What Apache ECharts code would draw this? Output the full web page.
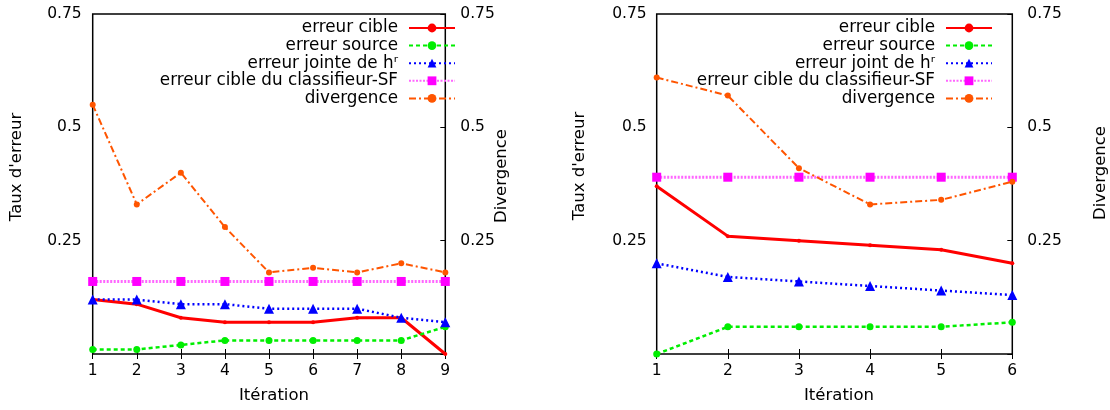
<!DOCTYPE html>
<html>
<head>
<meta charset="utf-8">
<script src="https://cdn.jsdelivr.net/npm/echarts@6/dist/echarts.min.js"></script>
<style>
html,body{margin:0;padding:0;background:#fff;}
#c{width:1110px;height:410px;}
</style>
</head>
<body>
<div id="c"></div>
<script>
// ---- data ----
const iterA = [1, 2, 3, 4, 5, 6, 7, 8, 9];
const cibleA = [0.12, 0.11, 0.08, 0.07, 0.07, 0.07, 0.08, 0.08, 0.00];
const sourceA = [0.01, 0.01, 0.02, 0.03, 0.03, 0.03, 0.03, 0.03, 0.06];
const jointeA = [0.12, 0.12, 0.11, 0.11, 0.10, 0.10, 0.10, 0.08, 0.07];
const sfA = [0.16, 0.16, 0.16, 0.16, 0.16, 0.16, 0.16, 0.16, 0.16];
const divA = [0.55, 0.33, 0.40, 0.28, 0.18, 0.19, 0.18, 0.20, 0.18];

const iterB = [1, 2, 3, 4, 5, 6];
const cibleB = [0.37, 0.26, 0.25, 0.24, 0.23, 0.20];
const sourceB = [0.00, 0.06, 0.06, 0.06, 0.06, 0.07];
const jointB = [0.20, 0.17, 0.16, 0.15, 0.14, 0.13];
const sfB = [0.39, 0.39, 0.39, 0.39, 0.39, 0.39];
const divB = [0.61, 0.57, 0.41, 0.33, 0.34, 0.38];

const namesA = ['erreur cible', 'erreur source', 'erreur jointe de h\u02B3', 'erreur cible du classifieur-SF', 'divergence'];
const namesB = ['erreur cible', 'erreur source', 'erreur joint de h\u02B3', 'erreur cible du classifieur-SF', 'divergence'];
const yTicks = [0.25, 0.5, 0.75];
const xLabel = 'Itération';
const yLabel = "Taux d'erreur";
const y2Label = 'Divergence';

// ---- styles ----
const FONT = 'DejaVu Sans';
const TICKFS = 15.5;
const styles = [
  {color: '#ff0000', line: {width: 3, type: 'solid'}, symbol: 'circle', size: 4},
  {color: '#00ee00', line: {width: 2.5, type: [4, 3]}, symbol: 'circle', size: 7},
  {color: '#0000ff', line: {width: 2.5, type: [2, 3]}, symbol: 'triangle', size: 10},
  {color: '#ff00ff', lineColor: '#ff66ff', line: {width: 3, type: [2, 1.5]}, symbol: 'rect', size: 9},
  {color: '#ff5500', line: {width: 2, type: [7, 3, 2, 3]}, symbol: 'circle', size: 6}
];

function pairs(xs, ys) { return xs.map((x, i) => [x, ys[i]]); }

function makeSeries(xs, arrs, names, xIdx, yIdx, y2Idx) {
  return arrs.map((arr, k) => {
    const st = styles[k];
    return {
      type: 'line',
      name: names[k],
      xAxisIndex: xIdx,
      yAxisIndex: k === 4 ? y2Idx : yIdx,
      data: pairs(xs, arr),
      symbol: st.symbol,
      symbolSize: st.size,
      showAllSymbol: true,
      clip: false,
      animation: false,
      itemStyle: {color: st.color},
      lineStyle: {color: st.lineColor || st.color, width: st.line.width, type: st.line.type},
      z: 3 + k
    };
  });
}

function yAxisDef(gridIndex, position, showTick, margin) {
  return {
    type: 'value', gridIndex: gridIndex, position: position,
    min: 0, max: 0.75, interval: 0.25,
    axisLine: {show: false},
    splitLine: {show: false},
    axisTick: {show: showTick, inside: true, length: 5, lineStyle: {color: '#000', width: 1}},
    axisLabel: {
      show: true, margin: margin, color: '#000', fontFamily: FONT, fontSize: TICKFS,
      formatter: v => (yTicks.indexOf(Math.round(v * 100) / 100) >= 0 ? String(Math.round(v * 100) / 100) : '')
    }
  };
}

function xAxisDef(gridIndex, position, maxV, showLabel) {
  return {
    type: 'value', gridIndex: gridIndex, position: position,
    min: 1, max: maxV, interval: 1,
    axisLine: {show: false},
    splitLine: {show: false},
    axisTick: {show: true, inside: true, length: 5, lineStyle: {color: '#000', width: 1}},
    axisLabel: {show: showLabel, margin: 9, color: '#000', fontFamily: FONT, fontSize: TICKFS}
  };
}

function legendDef(names, right) {
  return {
    orient: 'vertical', align: 'right', right: right, top: 19.5, padding: 0,
    itemWidth: 46, itemHeight: 11, itemGap: 0.6,
    textStyle: {fontFamily: FONT, fontSize: 16.8, color: '#000', padding: [0, 6, 0, 0]},
    data: names,
    selectedMode: false
  };
}

function axText(x, y, txt, rot) {
  return {
    type: 'text', x: x, y: y, rotation: rot,
    style: {text: txt, fontFamily: FONT, fontSize: 16.5, fill: '#000', align: 'center', verticalAlign: 'middle'}
  };
}

const chart = echarts.init(document.getElementById('c'), null, {renderer: 'canvas'});
const option = {
  backgroundColor: '#fff',
  animation: false,
  grid: [
    {left: 92.7, top: 14, width: 352.6, height: 340, show: true, borderColor: '#000', borderWidth: 1.5, backgroundColor: 'transparent'},
    {left: 656.7, top: 14, width: 355.6, height: 340, show: true, borderColor: '#000', borderWidth: 1.5, backgroundColor: 'transparent'}
  ],
  xAxis: [
    xAxisDef(0, 'bottom', 9, true),
    xAxisDef(0, 'top', 9, false),
    xAxisDef(1, 'bottom', 6, true),
    xAxisDef(1, 'top', 6, false)
  ],
  yAxis: [
    yAxisDef(0, 'left', false, 11),
    yAxisDef(0, 'right', true, 15),
    yAxisDef(1, 'left', false, 10),
    yAxisDef(1, 'right', true, 15)
  ],
  legend: [legendDef(namesA, 654), legendDef(namesB, 117)],
  series: [].concat(
    makeSeries(iterA, [cibleA, sourceA, jointeA, sfA, divA], namesA, 0, 0, 1),
    makeSeries(iterB, [cibleB, sourceB, jointB, sfB, divB], namesB, 2, 2, 3)
  ),
  graphic: [
    axText(17, 167, yLabel, Math.PI / 2),
    axText(502, 176, y2Label, Math.PI / 2),
    axText(274, 396, xLabel, 0),
    axText(580, 166, yLabel, Math.PI / 2),
    axText(1101, 173, y2Label, Math.PI / 2),
    axText(839, 396, xLabel, 0)
  ]
};
chart.setOption(option);
</script>
</body>
</html>
